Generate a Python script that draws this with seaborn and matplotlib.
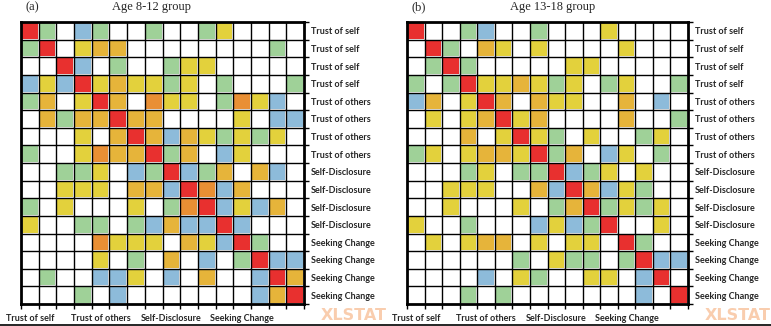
import numpy as np
import pandas as pd
import matplotlib
matplotlib.use("Agg")
import matplotlib.pyplot as plt
from matplotlib.colors import ListedColormap
from matplotlib.lines import Line2D
import seaborn as sns

# category codes: 0 white, 1 green, 2 blue, 3 yellow, 4 amber, 5 orange, 6 red
row_labels = (["Trust of self"] * 4 + ["Trust of others"] * 4 +
              ["Self-Disclosure"] * 4 + ["Seeking Change"] * 4)
x_labels = ["Trust of self", "Trust of others", "Self-Disclosure", "Seeking Change"]
titles = ["Age 8-12 group", "Age 13-18 group"]
panel_tags = ["(a)", "(b)"]

group_a = [
    [6,1,0,2,1,0,0,1,0,0,1,3,0,0,0,0],
    [1,6,0,3,4,4,0,0,0,0,0,0,0,0,1,0],
    [0,0,6,2,0,1,0,0,1,3,3,0,0,0,0,0],
    [2,3,2,6,3,4,3,3,1,3,0,1,0,0,0,1],
    [1,4,0,3,6,4,0,5,3,3,0,1,5,3,2,0],
    [0,4,1,4,4,6,4,4,0,0,0,0,3,0,2,2],
    [0,0,0,3,0,4,6,4,2,4,3,1,3,1,3,0],
    [1,0,0,3,5,4,4,6,1,4,0,2,3,0,0,0],
    [0,0,1,1,3,0,2,1,6,2,1,4,0,4,2,0],
    [0,0,3,3,3,0,4,4,2,6,5,2,4,0,0,0],
    [1,0,3,0,0,0,3,0,1,5,6,2,3,2,4,0],
    [3,0,0,1,1,0,1,2,4,2,2,6,2,0,0,0],
    [0,0,0,0,5,3,3,3,0,4,3,2,6,1,0,0],
    [0,0,0,0,3,0,1,0,4,0,2,0,1,6,2,2],
    [0,1,0,0,2,2,3,0,2,0,4,0,0,2,6,4],
    [0,0,0,1,0,2,0,0,0,0,0,0,0,2,4,6],
]

group_b = [
    [6,0,0,1,2,0,0,1,0,0,0,3,0,0,0,0],
    [0,6,1,0,4,3,0,3,0,0,0,0,3,0,0,0],
    [0,1,6,1,0,0,0,0,0,3,3,0,0,0,0,0],
    [1,0,1,6,3,3,4,3,1,3,0,1,3,0,0,1],
    [2,4,0,3,6,4,0,4,3,3,0,0,4,0,2,0],
    [0,3,0,3,4,6,3,4,0,0,0,0,4,0,0,1],
    [0,0,0,4,0,3,6,3,1,0,3,0,0,1,3,0],
    [1,3,0,3,4,4,3,6,1,4,0,2,3,0,1,0],
    [0,0,0,1,3,0,1,1,6,2,1,3,0,3,0,0],
    [0,0,3,3,3,0,0,4,2,6,4,2,3,1,0,0],
    [0,0,3,0,0,0,3,0,1,4,6,1,3,1,3,0],
    [3,0,0,1,0,0,0,2,3,2,1,6,0,0,3,0],
    [0,3,0,3,4,4,0,3,0,3,3,0,6,1,0,0],
    [0,0,0,0,0,0,1,0,3,1,1,0,1,6,2,2],
    [0,0,0,0,2,0,3,1,0,0,3,3,0,2,6,0],
    [0,0,0,1,0,1,0,0,0,0,0,0,0,2,0,6],
]

palette = ["#FFFFFF", "#9FD198", "#8DBBDA", "#E3D13C", "#E6B43A", "#E98F34", "#E8302F"]

sns.set_style("white")
plt.rcParams["font.family"] = ["Lato", "DejaVu Sans"]

fig = plt.figure(figsize=(7.71, 3.26), dpi=100)
W, H = 771, 326
boxes = [(21, 22, 304, 304), (407, 22, 688, 304)]
title_dx = [130, 146]
cmap = ListedColormap(palette)

for k, (data, box) in enumerate(zip([group_a, group_b], boxes)):
    x0, y0, x1, y1 = box
    ax = fig.add_axes([x0 / W, 1 - y1 / H, (x1 - x0) / W, (y1 - y0) / H])
    df = pd.DataFrame(np.array(data))
    sns.heatmap(df, ax=ax, cmap=cmap, vmin=-0.5, vmax=6.5, cbar=False,
                linewidths=1.3, linecolor="white", square=False)
    n = df.shape[0]
    for i in range(1, n):
        ax.axhline(i, color="black", lw=1.0, zorder=3)
        ax.axvline(i, color="black", lw=1.0, zorder=3)
    for s in ax.spines.values():
        s.set_visible(True)
        s.set_color("black")
        s.set_linewidth(2.0)
        s.set_zorder(4)
    ax.yaxis.tick_right()
    ax.set_yticks(np.arange(n) + 0.5)
    ax.set_yticklabels(row_labels, rotation=0, fontsize=6.5, fontweight="bold")
    ax.set_xticks(np.arange(0, n, 4) + 0.5)
    ax.set_xticklabels(x_labels, rotation=0, fontsize=6.5, fontweight="bold")
    ax.tick_params(axis="both", which="major", length=0)
    ax.tick_params(axis="y", which="major", pad=5)
    ax.tick_params(axis="x", which="major", pad=7)
    ax.set_yticks(np.arange(0, n + 1), minor=True)
    ax.set_xticks(np.arange(0, n + 1), minor=True)
    ax.tick_params(axis="both", which="minor", length=3.5, width=1.0,
                   color="black", direction="out", bottom=True, right=True,
                   left=False, top=False)
    ax.set_xlabel("")
    ax.set_ylabel("")
    # panel tag and title
    fig.text((x0 + 4) / W, 1 - 7 / H, panel_tags[k], fontsize=9,
             family="Liberation Serif", ha="left", va="center")
    fig.text((x0 + title_dx[k]) / W, 1 - 7 / H, titles[k], fontsize=9,
             family="Liberation Serif", ha="center", va="center")
    # watermark
    fig.text((x1 + 50) / W, 1 - 316 / H, "XLSTAT", fontsize=11.5,
             fontweight="bold", color="#F9CDAE", family="DejaVu Sans",
             ha="center", va="center")

fig.add_artist(Line2D([0, 1], [1 - 324.5 / H, 1 - 324.5 / H],
                      transform=fig.transFigure, color="black", lw=1.2))

fig.savefig("out.png", dpi=100)
